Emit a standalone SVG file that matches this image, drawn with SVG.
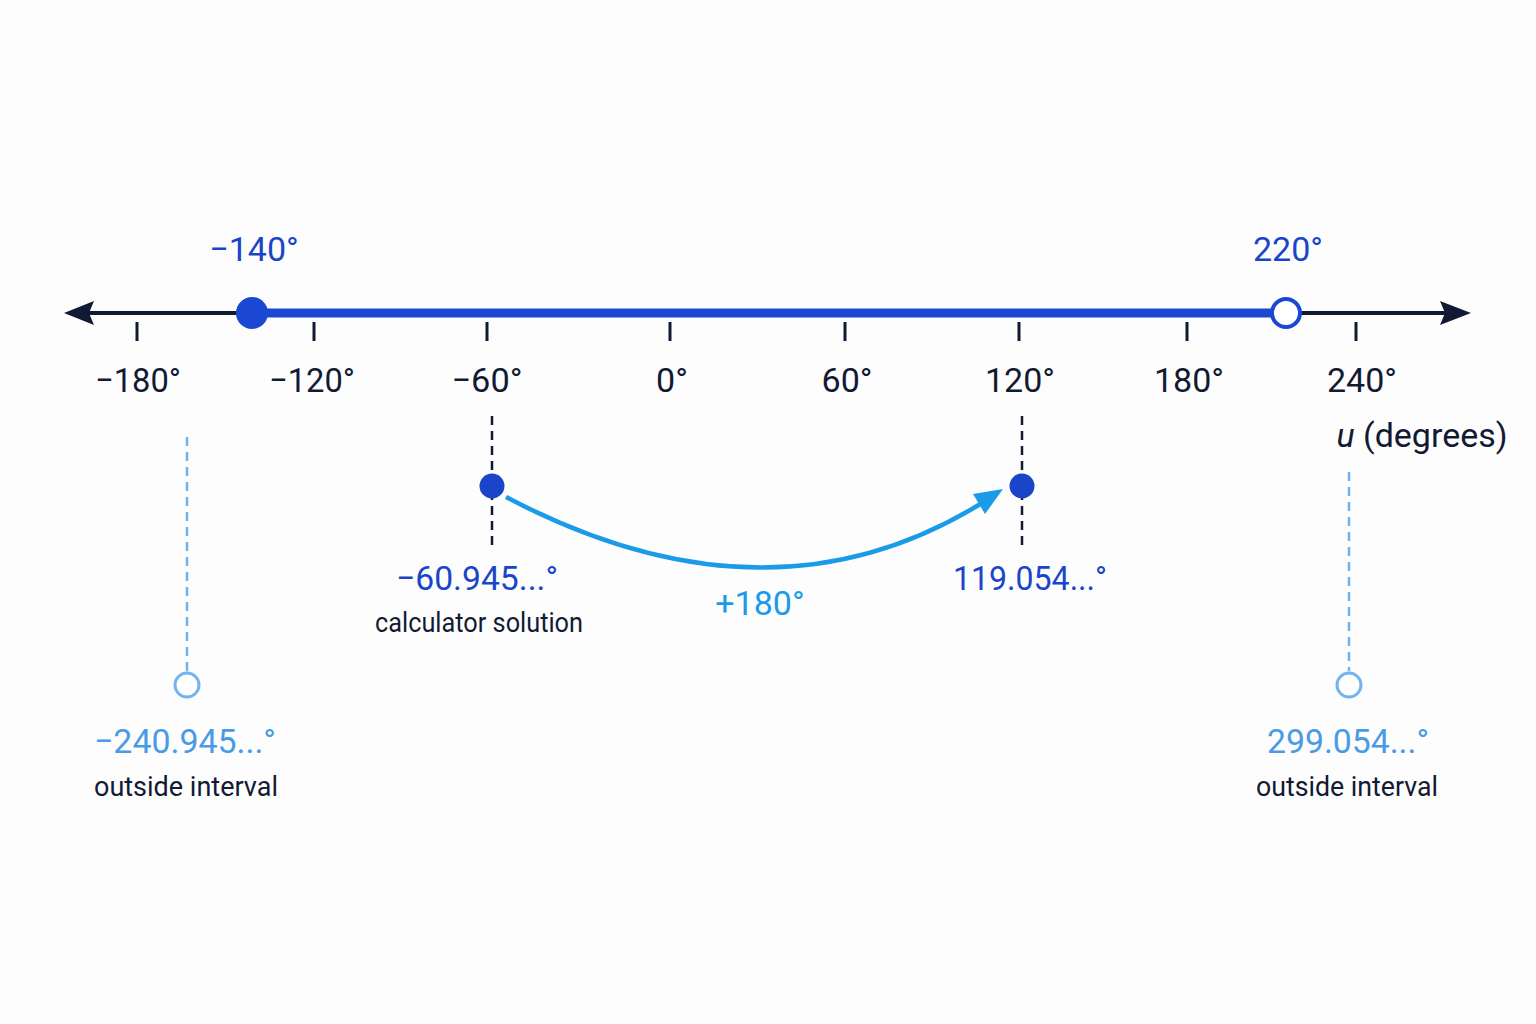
<svg xmlns="http://www.w3.org/2000/svg" width="1536" height="1024" viewBox="0 0 1536 1024">
<defs>
<style>
text{font-family:Roboto,"Liberation Sans",sans-serif;text-anchor:middle}
.tick{stroke:#121a33;stroke-width:3}
.lbl{font-size:34px;fill:#121a33}
.blue{fill:#1a45c9}
.lb{fill:#4a9ae6}
.cyan{fill:#1a9be8}
.sub{font-size:28px;fill:#121a33}
.dash{stroke:#121a33;stroke-width:2.5;stroke-dasharray:9 6;fill:none}
.ldash{stroke:#6fb2ee;stroke-width:2.5;stroke-dasharray:9 6;fill:none}
</style>
</defs>
<rect width="1536" height="1024" fill="#fdfdfd"/>
<g id="axis">
<line x1="88" y1="313" x2="1446" y2="313" stroke="#121a33" stroke-width="4"/>
<path d="M64 313 L94 301 L89 313 L94 325 Z" fill="#121a33"/>
<path d="M1471 313 L1440 301 L1445 313 L1440 325 Z" fill="#121a33"/>
<line class="tick" x1="137" y1="322" x2="137" y2="341"/>
<line class="tick" x1="314" y1="322" x2="314" y2="341"/>
<line class="tick" x1="487" y1="322" x2="487" y2="341"/>
<line class="tick" x1="670" y1="322" x2="670" y2="341"/>
<line class="tick" x1="845" y1="322" x2="845" y2="341"/>
<line class="tick" x1="1019" y1="322" x2="1019" y2="341"/>
<line class="tick" x1="1187" y1="322" x2="1187" y2="341"/>
<line class="tick" x1="1356" y1="322" x2="1356" y2="341"/>
<text class="lbl" x="138" y="392" textLength="86" lengthAdjust="spacingAndGlyphs">−180°</text>
<text class="lbl" x="312" y="392" textLength="86" lengthAdjust="spacingAndGlyphs">−120°</text>
<text class="lbl" x="487" y="392" textLength="71" lengthAdjust="spacingAndGlyphs">−60°</text>
<text class="lbl" x="672" y="392">0°</text>
<text class="lbl" x="847" y="392">60°</text>
<text class="lbl" x="1020" y="392">120°</text>
<text class="lbl" x="1189" y="392">180°</text>
<text class="lbl" x="1362" y="392">240°</text>
<text class="lbl" x="1422" y="447"><tspan font-style="italic">u</tspan> (degrees)</text>
</g>
<g id="interval">
<line x1="252" y1="313" x2="1286" y2="313" stroke="#1a48d2" stroke-width="9"/>
<circle cx="252" cy="313" r="16" fill="#1a48d2"/>
<circle cx="1286" cy="313" r="14" fill="#fff" stroke="#1a48d2" stroke-width="4"/>
<text class="lbl blue" x="254" y="261">−140°</text>
<text class="lbl blue" x="1288" y="261">220°</text>
</g>
<g id="connectors">
<line class="dash" x1="492" y1="416" x2="492" y2="545"/>
<line class="dash" x1="1022" y1="416" x2="1022" y2="545"/>
<line class="ldash" x1="187" y1="437" x2="187" y2="671"/>
<line class="ldash" x1="1349" y1="472" x2="1349" y2="671"/>
<path d="M506 497 Q768 635 982 503" fill="none" stroke="#1a9be8" stroke-width="4.5"/>
<path d="M1003 489 L985 514 L973 494 Z" fill="#1a9be8"/>
<text class="lbl cyan" x="760" y="615">+180°</text>
</g>
<g id="calc">
<circle cx="492" cy="486" r="12.5" fill="#1a45c9"/>
<text class="lbl blue" x="477" y="590" textLength="162" lengthAdjust="spacingAndGlyphs">−60.945...°</text>
<text class="sub" x="479" y="632" textLength="208" lengthAdjust="spacingAndGlyphs">calculator solution</text>
</g>
<g id="shifted">
<circle cx="1022" cy="486" r="12.5" fill="#1a45c9"/>
<text class="lbl blue" x="1030" y="590" textLength="154" lengthAdjust="spacingAndGlyphs">119.054...°</text>
</g>
<g id="outLeft">
<circle cx="187" cy="685" r="12" fill="#fff" stroke="#74b4ee" stroke-width="3"/>
<text class="lbl lb" x="185" y="753" textLength="182" lengthAdjust="spacingAndGlyphs">−240.945...°</text>
<text class="sub" x="186" y="796" textLength="184" lengthAdjust="spacingAndGlyphs">outside interval</text>
</g>
<g id="outRight">
<circle cx="1349" cy="685" r="12" fill="#fff" stroke="#74b4ee" stroke-width="3"/>
<text class="lbl lb" x="1348" y="753" textLength="162" lengthAdjust="spacingAndGlyphs">299.054...°</text>
<text class="sub" x="1347" y="796" textLength="182" lengthAdjust="spacingAndGlyphs">outside interval</text>
</g>
</svg>
